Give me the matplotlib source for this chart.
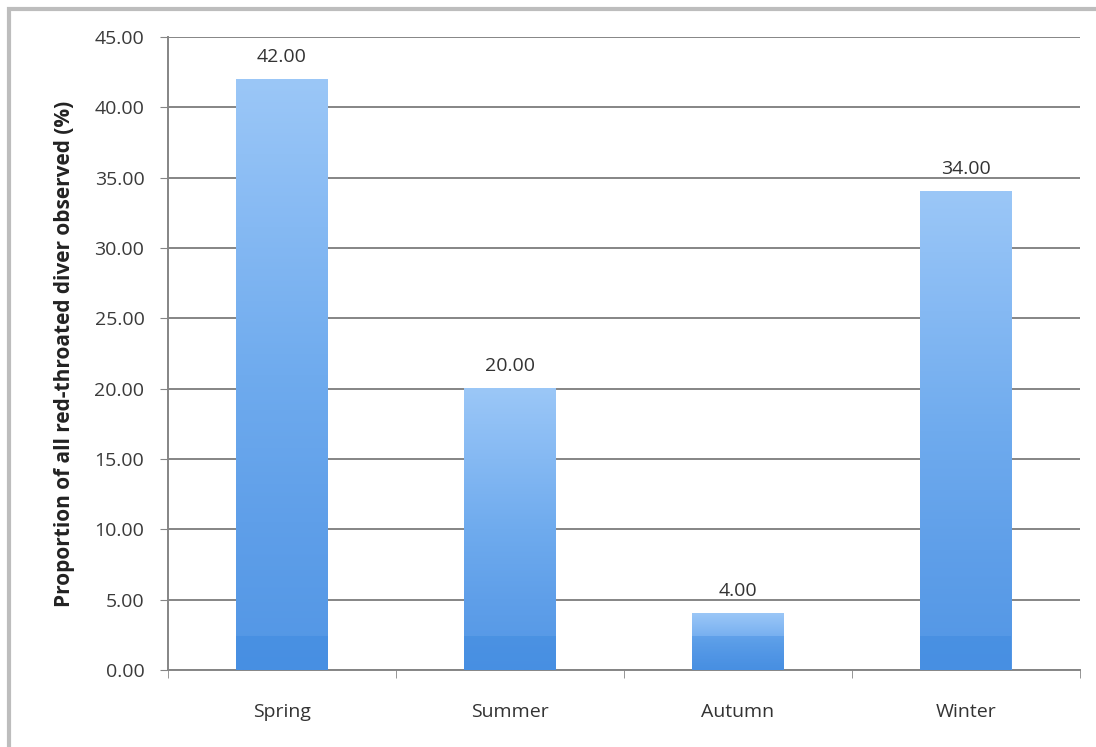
import numpy as np
import matplotlib.pyplot as plt
from matplotlib.colors import LinearSegmentedColormap
from matplotlib.patches import Rectangle

seasons = ["Spring", "Summer", "Autumn", "Winter"]
proportions = [42.00, 20.00, 4.00, 34.00]
y_ticks = [0, 5, 10, 15, 20, 25, 30, 35, 40, 45]

plt.rcParams['font.family'] = ['Open Sans', 'DejaVu Sans']

fig = plt.figure(figsize=(10.96, 7.47), dpi=100)
fig.patch.set_facecolor('white')

# grey frame round the chart
fig.add_artist(Rectangle((9 / 1096, -0.05), 1.2, 1 - 9 / 747 + 0.05,
                         transform=fig.transFigure, fill=False,
                         edgecolor='#bdbdbd', linewidth=3))

ax = fig.add_axes([0.1533, 0.1031, 0.832, 0.8474])
x = np.arange(len(seasons))
bars = ax.bar(x, proportions, width=0.4, color='none', zorder=3)

# vertical blue gradient on each bar, light at the top
grad = LinearSegmentedColormap.from_list(
    'bar', ['#5296e5', '#5f9fe9', '#6fabee', '#85b9f3', '#9bc7f7'])
for b, v in zip(bars, proportions):
    x0 = b.get_x()
    w = b.get_width()
    col = np.linspace(0, 1, 200).reshape(-1, 1)
    ax.imshow(col, cmap=grad, origin='lower', aspect='auto',
              extent=(x0, x0 + w, 0, v), zorder=3)
    # darker band near the base
    ax.add_patch(Rectangle((x0, 0), w, min(2.4, v), color='#2f80dc',
                           alpha=0.3, linewidth=0, zorder=4))
    ax.text(x0 + w / 2, v + 1.6, f"{v:.2f}", ha='center', va='center',
            fontsize=14, color='#333333', zorder=5)

ax.set_xlim(-0.5, len(seasons) - 0.5)
ax.set_ylim(0, 45)
ax.set_yticks(y_ticks)
ax.set_yticklabels([f"{t:.2f}" for t in y_ticks], fontsize=14, color='#3a3a3a')
ax.yaxis.grid(True, color='#858585', linewidth=1.4, zorder=0)
ax.set_axisbelow(True)

ax.set_xticks(x)
ax.set_xticklabels(seasons, fontsize=14, color='#333333')
ax.tick_params(axis='x', length=0, pad=24)
ax.set_xticks(np.arange(-0.5, len(seasons)), minor=True)
ax.tick_params(axis='x', which='minor', length=6, color='#858585', direction='out')
ax.tick_params(axis='y', length=6, color='#858585', direction='out', pad=11)

for side in ['top', 'right']:
    ax.spines[side].set_visible(False)
ax.spines['left'].set_color('#858585')
ax.spines['bottom'].set_color('#858585')
ax.spines['left'].set_linewidth(1.4)
ax.spines['bottom'].set_linewidth(1.4)

ax.set_ylabel("Proportion of all red-throated diver observed (%)",
              fontsize=15, fontweight='bold', color='#222222', labelpad=14)

fig.savefig('out.png', dpi=100, facecolor='white')
